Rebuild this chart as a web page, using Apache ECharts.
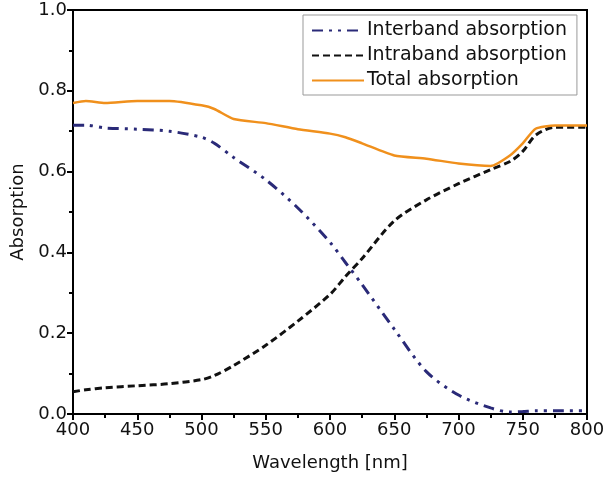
<!DOCTYPE html>
<html>
<head>
<meta charset="utf-8">
<script src="https://cdn.jsdelivr.net/npm/echarts@6/dist/echarts.min.js"></script>
<style>
  html, body { margin: 0; padding: 0; background: #fff; }
  #chart { width: 608px; height: 481px; }
</style>
</head>
<body>
<div id="chart"></div>
<script>
// values
var wavelength = [400, 410, 425, 450, 475, 500, 510, 525, 550, 575, 600, 612, 625, 650, 675, 700, 725, 740, 750, 760, 775, 800]
var interband  = [0.715, 0.715, 0.708, 0.705, 0.700, 0.685, 0.670, 0.635, 0.580, 0.510, 0.425, 0.375, 0.320, 0.210, 0.105, 0.047, 0.015, 0.005, 0.006, 0.008, 0.008, 0.008]
var intraband  = [0.055, 0.060, 0.065, 0.070, 0.075, 0.085, 0.095, 0.120, 0.170, 0.230, 0.296, 0.340, 0.385, 0.478, 0.530, 0.570, 0.605, 0.625, 0.650, 0.690, 0.710, 0.710]
var total      = [0.770, 0.775, 0.770, 0.775, 0.775, 0.764, 0.755, 0.730, 0.720, 0.705, 0.694, 0.685, 0.670, 0.640, 0.632, 0.620, 0.614, 0.640, 0.670, 0.706, 0.714, 0.714]

function pairs (ys) {
  return wavelength.map(function (x, i) { return [x, ys[i]] })
}

var chart = echarts.init(document.getElementById('chart'))
var font = 'DejaVu Sans, Arial, sans-serif'

var options = {
  animation: false,
  grid: {
    left: 73,
    right: 21,
    top: 10,
    bottom: 67,
    show: true,
    borderColor: '#000',
    borderWidth: 2
  },
  legend: {
    orient: 'vertical',
    left: 303,
    top: 15,
    itemWidth: 52,
    itemHeight: 10,
    itemGap: 6,
    padding: [6, 10, 5, 8],
    borderColor: '#999',
    borderWidth: 1,
    itemStyle: { opacity: 0 },
    textStyle: { fontFamily: font, fontSize: 19, color: '#111', padding: [0, 0, 0, -2] },
    data: ['Interband absorption', 'Intraband absorption', 'Total absorption']
  },
  xAxis: {
    type: 'value',
    min: 400,
    max: 800,
    interval: 50,
    name: 'Wavelength [nm]',
    nameLocation: 'middle',
    nameGap: 40,
    nameTextStyle: { fontFamily: font, fontSize: 18, color: '#111' },
    axisLine: { lineStyle: { color: '#000', width: 2 } },
    axisTick: { length: 6, lineStyle: { color: '#000', width: 2 } },
    minorTick: { show: true, splitNumber: 2, length: 4, lineStyle: { color: '#000', width: 2 } },
    splitLine: { show: false },
    axisLabel: { fontFamily: font, fontSize: 18, color: '#111', margin: 7 }
  },
  yAxis: {
    type: 'value',
    min: 0,
    max: 1,
    interval: 0.2,
    name: 'Absorption',
    nameLocation: 'middle',
    nameGap: 46,
    nameTextStyle: { fontFamily: font, fontSize: 18, color: '#111' },
    axisLine: { lineStyle: { color: '#000', width: 2 } },
    axisTick: { length: 6, lineStyle: { color: '#000', width: 2 } },
    minorTick: { show: true, splitNumber: 2, length: 4, lineStyle: { color: '#000', width: 2 } },
    splitLine: { show: false },
    axisLabel: {
      fontFamily: font, fontSize: 18, color: '#111', margin: 6,
      formatter: function (v) { return v.toFixed(1) }
    }
  },
  series: [
    {
      name: 'Interband absorption',
      type: 'line',
      symbol: 'none',
      smooth: 0.3,
      lineStyle: { color: '#2a2a78', width: 3, type: [11, 6, 3, 6, 3, 6] },
      itemStyle: { color: '#2a2a78' },
      data: pairs(interband)
    },
    {
      name: 'Intraband absorption',
      type: 'line',
      symbol: 'none',
      smooth: 0.3,
      lineStyle: { color: '#111', width: 3, type: [7, 4] },
      itemStyle: { color: '#111' },
      data: pairs(intraband)
    },
    {
      name: 'Total absorption',
      type: 'line',
      symbol: 'none',
      smooth: 0.2,
      lineStyle: { color: '#f0901c', width: 2.5 },
      itemStyle: { color: '#f0901c' },
      data: pairs(total)
    }
  ]
}
chart.setOption(options)
</script>
</body>
</html>
